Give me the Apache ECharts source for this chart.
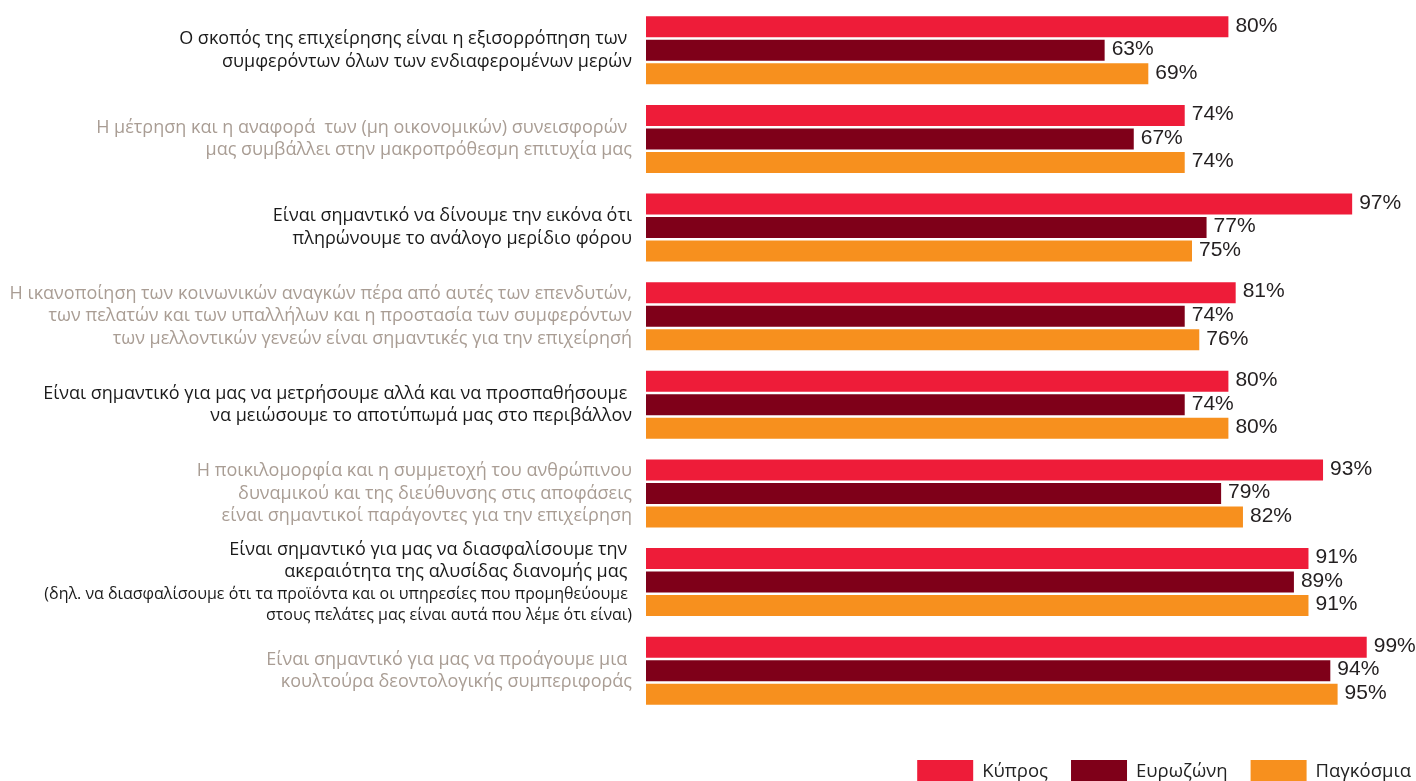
<!DOCTYPE html>
<html>
<head>
<meta charset="utf-8">
<script src="https://cdn.jsdelivr.net/npm/echarts@6/dist/echarts.min.js"></script>
<style>
  html, body { margin: 0; padding: 0; background: #ffffff; }
  #chart { width: 1416px; height: 781px; }
</style>
</head>
<body>
<div id="chart"></div>
<script>
// Statements (top to bottom), main text of each category label
const statements = [
  'Ο σκοπός της επιχείρησης είναι η εξισορρόπηση των \nσυμφερόντων όλων των ενδιαφερομένων μερών',
  'Η μέτρηση και η αναφορά  των (μη οικονομικών) συνεισφορών \nμας συμβάλλει στην μακροπρόθεσμη επιτυχία μας',
  'Είναι σημαντικό να δίνουμε την εικόνα ότι\nπληρώνουμε το ανάλογο μερίδιο φόρου',
  'Η ικανοποίηση των κοινωνικών αναγκών πέρα από αυτές των επενδυτών,\nτων πελατών και των υπαλλήλων και η προστασία των συμφερόντων\nτων μελλοντικών γενεών είναι σημαντικές για την επιχείρησή',
  'Είναι σημαντικό για μας να μετρήσουμε αλλά και να προσπαθήσουμε \nνα μειώσουμε το αποτύπωμά μας στο περιβάλλον',
  'Η ποικιλομορφία και η συμμετοχή του ανθρώπινου\nδυναμικού και της διεύθυνσης στις αποφάσεις\nείναι σημαντικοί παράγοντες για την επιχείρηση',
  'Είναι σημαντικό για μας να διασφαλίσουμε την \nακεραιότητα της αλυσίδας διανομής μας ',
  'Είναι σημαντικό για μας να προάγουμε μια \nκουλτούρα δεοντολογικής συμπεριφοράς'
];
// Smaller explanatory text shown under a statement (empty when none)
const notes = [
  '', '', '', '', '', '',
  '(δηλ. να διασφαλίσουμε ότι τα προϊόντα και οι υπηρεσίες που προμηθεύουμε \nστους πελάτες μας είναι αυτά που λέμε ότι είναι)',
  ''
];

const seriesNames = ['Κύπρος', 'Ευρωζώνη', 'Παγκόσμια'];
const cyprus   = [80, 74, 97, 81, 80, 93, 91, 99];
const eurozone = [63, 67, 77, 74, 74, 79, 89, 94];
const global   = [69, 74, 75, 76, 80, 82, 91, 95];

const colors = ['#ee1c39', '#7f0019', '#f7901e'];

const chart = echarts.init(document.getElementById('chart'), null, { renderer: 'canvas' });

function labelFormatter(value, index) {
  const style = index % 2 === 0 ? 'dark' : 'light';
  const lines = statements[index].split('\n').map(l => '{' + style + '|' + l + '}');
  if (notes[index]) {
    notes[index].split('\n').forEach(l => lines.push('{note|' + l + '}'));
  }
  return lines.join('\n');
}

const valueLabel = {
  show: true,
  position: 'right',
  distance: 7,
  offset: [0, -1],
  formatter: p => p.value + '%',
  fontFamily: 'Liberation Sans',
  fontSize: 21,
  color: '#231f20'
};

const bars = [cyprus, eurozone, global].map((vals, i) => ({
  name: seriesNames[i],
  type: 'bar',
  data: vals,
  barWidth: 21,
  barGap: '12%',
  itemStyle: { color: colors[i] },
  label: valueLabel,
  animation: false
}));

chart.setOption({
  animation: false,
  textStyle: { fontFamily: 'Open Sans' },
  grid: { left: 646, right: 42, top: 6, bottom: 66, containLabel: false },
  legend: {
    data: seriesNames,
    right: 0,
    top: 755,
    icon: 'rect',
    itemWidth: 56,
    itemHeight: 24,
    itemGap: 23,
    textStyle: { fontFamily: 'Open Sans', fontSize: 18.5, color: '#222222', padding: [0, 0, 0, 4] }
  },
  xAxis: {
    type: 'value',
    min: 0,
    max: 100,
    show: false
  },
  yAxis: {
    type: 'category',
    inverse: true,
    data: statements.map((s, i) => 'c' + i),
    axisLine: { show: false },
    axisTick: { show: false },
    splitLine: { show: false },
    axisLabel: {
      margin: 14,
      align: 'right',
      formatter: labelFormatter,
      rich: {
        dark:  { fontFamily: 'Open Sans', fontSize: 18, lineHeight: 22.5, color: '#1a1a1a', align: 'right' },
        light: { fontFamily: 'Open Sans', fontSize: 18, lineHeight: 22.5, color: '#a99d94', align: 'right' },
        note:  { fontFamily: 'Open Sans', fontSize: 16, lineHeight: 21, color: '#1a1a1a', align: 'right' }
      }
    }
  },
  series: bars
});
</script>
</body>
</html>
